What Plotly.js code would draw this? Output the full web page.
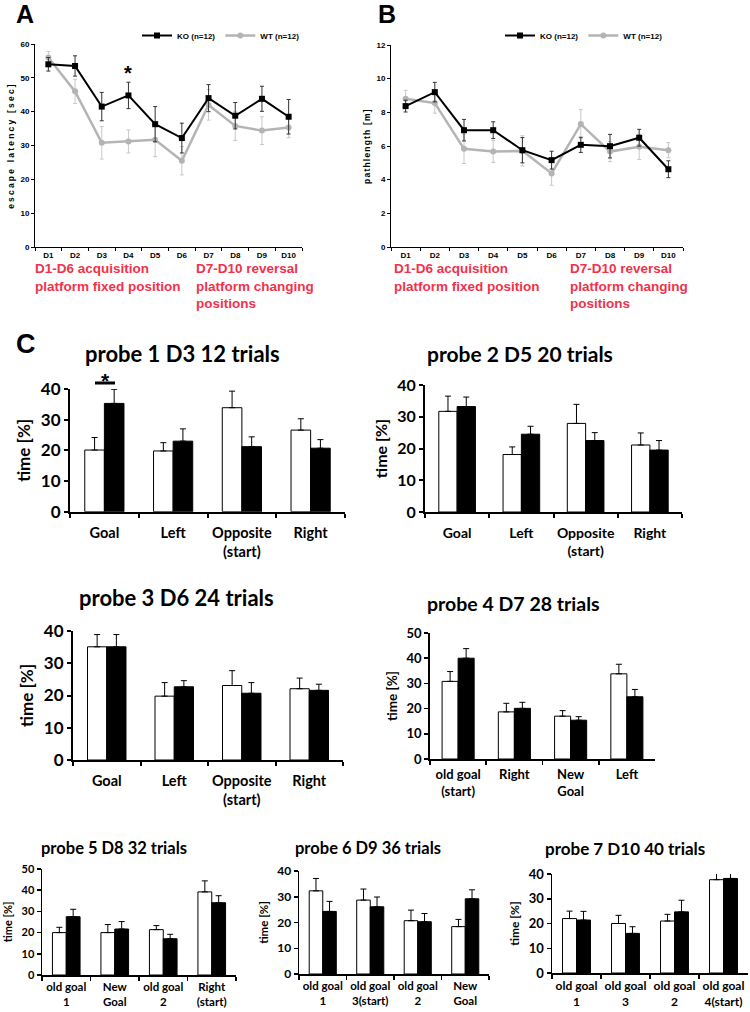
<!DOCTYPE html>
<html><head><meta charset="utf-8">
<script src="https://cdn.plot.ly/plotly-3.0.1.min.js"></script>
<style>body{margin:0;background:#fff}</style>
</head><body><div id="chart" style="width:750px;height:1012px"></div>
<script>
// ---------- data ----------
const days = ['D1','D2','D3','D4','D5','D6','D7','D8','D9','D10'];
const latencyKO    = [54.0, 53.5, 41.5, 44.8, 36.3, 32.2, 44.0, 38.8, 43.8, 38.5];
const latencyKOerr = [2.0, 3.0, 4.2, 3.9, 5.2, 4.4, 4.0, 3.9, 3.7, 5.1];
const latencyWT    = [56.0, 46.0, 30.8, 31.2, 31.7, 25.5, 42.0, 35.8, 34.4, 35.3];
const latencyWTerr = [1.8, 3.6, 4.8, 3.4, 5.0, 4.2, 4.5, 4.3, 4.1, 3.0];
const pathKO    = [8.37, 9.2, 6.94, 6.94, 5.75, 5.16, 6.07, 5.99, 6.49, 4.62];
const pathKOerr = [0.35, 0.58, 0.64, 0.5, 0.75, 0.53, 0.45, 0.7, 0.5, 0.5];
const pathWT    = [8.81, 8.55, 5.83, 5.67, 5.71, 4.37, 7.3, 5.67, 5.95, 5.75];
const pathWTerr = [0.5, 0.6, 0.87, 0.65, 0.9, 0.7, 0.87, 0.6, 0.75, 0.45];

const probe1Cats = ['Goal','Left','Opposite<br>(start)','Right'];
const probe1WT = [20.1, 19.8, 33.9, 26.6], probe1WTerr = [4.1, 2.7, 5.4, 3.7];
const probe1KO = [35.3, 23.0, 21.2, 20.7], probe1KOerr = [4.6, 4.0, 3.2, 2.8];
const probe2Cats = ['Goal','Left','Opposite<br>(start)','Right'];
const probe2WT = [31.7, 18.1, 27.9, 21.1], probe2WTerr = [4.8, 2.4, 6.0, 3.8];
const probe2KO = [33.2, 24.5, 22.5, 19.5], probe2KOerr = [3.0, 2.5, 2.5, 3.0];
const probe3Cats = ['Goal','Left','Opposite<br>(start)','Right'];
const probe3WT = [35.1, 19.8, 23.1, 22.1], probe3WTerr = [3.8, 4.2, 4.6, 3.3];
const probe3KO = [35.1, 22.7, 20.7, 21.6], probe3KOerr = [3.8, 1.9, 3.3, 1.9];
const probe4Cats = ['old goal<br>(start)','Right','New<br>Goal','Left'];
const probe4WT = [30.8, 18.7, 17.0, 33.8], probe4WTerr = [3.9, 3.4, 2.2, 3.8];
const probe4KO = [40.0, 20.1, 15.4, 24.7], probe4KOerr = [3.8, 2.4, 1.4, 2.9];
const probe5Cats = ['old goal<br>1','New<br>Goal','old goal<br>2','Right<br>(start)'];
const probe5WT = [20.0, 20.0, 21.4, 39.2], probe5WTerr = [2.5, 3.8, 1.9, 5.2];
const probe5KO = [27.5, 21.7, 17.1, 34.1], probe5KOerr = [3.5, 3.5, 2.1, 3.3];
const probe6Cats = ['old goal<br>1','old goal<br>3(start)','old goal<br>2','New<br>Goal'];
const probe6WT = [32.3, 28.7, 20.7, 18.4], probe6WTerr = [4.8, 4.3, 4.1, 2.8];
const probe6KO = [24.3, 26.1, 20.3, 29.2], probe6KOerr = [3.9, 3.8, 3.2, 3.5];
const probe7Cats = ['old goal<br>1','old goal<br>3','old goal<br>2','old goal<br>4(start)'];
const probe7WT = [22.0, 20.0, 21.0, 37.7], probe7WTerr = [3.0, 3.3, 2.7, 2.5];
const probe7KO = [21.4, 16.0, 24.7, 38.2], probe7KOerr = [3.5, 2.7, 4.7, 2.5];

const probeTitles = ['probe 1 D3 12 trials','probe 2 D5 20 trials','probe 3 D6 24 trials',
  'probe 4 D7 28 trials','probe 5 D8 32 trials','probe 6 D9 36 trials','probe 7 D10 40 trials'];

// ---------- layout helpers ----------
const W = 750, H = 1012;
const px = v => v / W;
const py = v => 1 - v / H;
const ARIAL = 'Liberation Sans, Arial, sans-serif';
const CAL = 'Lato, Carlito, Calibri, sans-serif';
const RED = '#f0324b';
const GRAY = '#b4b4b4';

const traces = [];
const layout = {
  width: W, height: H, margin: {l:0, r:0, t:0, b:0},
  paper_bgcolor: 'white', plot_bgcolor: 'white',
  showlegend: true, barmode: 'group', bargap: 0.43, bargroupgap: 0,
  font: {family: ARIAL, color: 'black'},
  annotations: [], shapes: []
};

// line charts A and B
function lineTraces(xa, ya, ko, koErr, wt, wtErr, legend) {
  traces.push({
    type:'scatter', mode:'lines+markers', x: days, y: wt, name: 'WT (n=12)', xaxis: xa, yaxis: ya,
    legend: legend, legendrank: 2,
    line:{color: GRAY, width: 2.5}, marker:{symbol:'circle', size:6, color: GRAY},
    error_y:{type:'data', array: wtErr, visible:true, color:'#c8c8c8', thickness:1, width:2}
  });
  traces.push({
    type:'scatter', mode:'lines+markers', x: days, y: ko, name: 'KO (n=12)', xaxis: xa, yaxis: ya,
    legend: legend, legendrank: 1,
    line:{color:'black', width: 2}, marker:{symbol:'square', size:6, color:'black'},
    error_y:{type:'data', array: koErr, visible:true, color:'#333', thickness:1, width:2}
  });
}
lineTraces('x','y', latencyKO, latencyKOerr, latencyWT, latencyWTerr, 'legend');
lineTraces('x2','y2', pathKO, pathKOerr, pathWT, pathWTerr, 'legend2');

const smallTick = {family: ARIAL, size: 8, weight: 700, color:'black'};
function lineXAxis(d0, d1, anchor) {
  return {domain:[px(d0), px(d1)], anchor, type:'category', range:[-0.5, 9.5],
    tickson:'boundaries', ticks:'outside', ticklen:3, tickwidth:1, tickcolor:'black', tickangle:0,
    showline:true, linecolor:'black', linewidth:1, showgrid:false, zeroline:false,
    tickfont: smallTick, fixedrange:true};
}
function lineYAxis(t0, t1, anchor, range, dtick, title) {
  return {domain:[py(t1), py(t0)], anchor, range, dtick, ticks:'outside', ticklen:3, tickwidth:1,
    tickcolor:'black', showline:true, linecolor:'black', linewidth:1, showgrid:false, zeroline:false,
    tickfont: smallTick, fixedrange:true,
    title:{text:title, font:{family: ARIAL, size: 8.5, weight:700}, standoff: 4}};
}
layout.xaxis = lineXAxis(35, 302, 'y');
layout.yaxis = lineYAxis(44, 247, 'x', [0, 60], 10, 'escape latency [sec]');
layout.xaxis2 = lineXAxis(391, 683, 'y2');
layout.yaxis2 = lineYAxis(45, 247, 'x2', [0, 12], 2, 'pathlength [m]');

const legFont = {family: ARIAL, size: 8, weight: 700, color:'black'};
layout.legend = {x: px(137), y: py(21), xanchor:'left', yanchor:'top', orientation:'h',
  font: legFont, bgcolor:'rgba(0,0,0,0)', itemwidth:30, traceorder:'normal'};
layout.legend2 = {x: px(500), y: py(21), xanchor:'left', yanchor:'top', orientation:'h',
  font: legFont, bgcolor:'rgba(0,0,0,0)', itemwidth:30, traceorder:'normal'};

// bar panels
const probes = [
  {cats: probe1Cats, wt: probe1WT, wte: probe1WTerr, ko: probe1KO, koe: probe1KOerr,
   x:[70,345], y:[389,511.7], range:[0,40], tick:17, lab:14.5, yt:17, title:22, tx:182, ty:353, lw:2, so:7},
  {cats: probe2Cats, wt: probe2WT, wte: probe2WTerr, ko: probe2KO, koe: probe2KOerr,
   x:[425,682], y:[385,512], range:[0,40], tick:16, lab:14, yt:16, title:21, tx:520, ty:353, lw:2, so:7},
  {cats: probe3Cats, wt: probe3WT, wte: probe3WTerr, ko: probe3KO, koe: probe3KOerr,
   x:[73,343], y:[631,760], range:[0,40], tick:17, lab:14.5, yt:17, title:22, tx:176, ty:597, lw:2, so:7},
  {cats: probe4Cats, wt: probe4WT, wte: probe4WTerr, ko: probe4KO, koe: probe4KOerr,
   x:[430,655], y:[633,759], range:[0,50], tick:13, lab:13, yt:13.5, title:19.5, tx:513, ty:603, lw:1.8, so:3},
  {cats: probe5Cats, wt: probe5WT, wte: probe5WTerr, ko: probe5KO, koe: probe5KOerr,
   x:[42,236], y:[869,975], range:[0,50], tick:11, lab:11.5, yt:11, title:16.5, tx:114, ty:848, lw:1.5, so:1},
  {cats: probe6Cats, wt: probe6WT, wte: probe6WTerr, ko: probe6KO, koe: probe6KOerr,
   x:[299,489], y:[871,974], range:[0,40], tick:12, lab:11.5, yt:11.5, title:16.5, tx:368, ty:848, lw:1.5, so:1},
  {cats: probe7Cats, wt: probe7WT, wte: probe7WTerr, ko: probe7KO, koe: probe7KOerr,
   x:[552,748], y:[874,973], range:[0,40], tick:13, lab:12, yt:12, title:17, tx:625, ty:848, lw:1.5, so:1}
];

probes.forEach((p, i) => {
  const n = i + 3;
  const xa = 'x' + n, ya = 'y' + n;
  const zeros = p.cats.map(() => 0);
  traces.push({type:'bar', x: p.cats, y: p.wt, name:'WT', xaxis: xa, yaxis: ya, showlegend:false,
    marker:{color:'white', line:{color:'black', width:1}},
    error_y:{type:'data', symmetric:false, array: p.wte, arrayminus: zeros, color:'black', thickness:1, width:3}});
  traces.push({type:'bar', x: p.cats, y: p.ko, name:'KO', xaxis: xa, yaxis: ya, showlegend:false,
    marker:{color:'black', line:{color:'black', width:1}},
    error_y:{type:'data', symmetric:false, array: p.koe, arrayminus: zeros, color:'black', thickness:1, width:3}});
  layout['xaxis' + n] = {domain:[px(p.x[0]), px(p.x[1])], anchor: ya, type:'category',
    range:[-0.5, 3.5], tickson:'boundaries', ticks:'outside', ticklen:4, tickwidth:p.lw, tickcolor:'black',
    tickangle:0, ticklabelstandoff: p.so,
    showline:true, linecolor:'black', linewidth:p.lw, showgrid:false, zeroline:false, fixedrange:true,
    tickfont:{family: CAL, size: p.lab, weight:700, color:'black'}};
  layout['yaxis' + n] = {domain:[py(p.y[1]), py(p.y[0])], anchor: xa, range: p.range, dtick:10,
    ticks:'outside', ticklen:4, tickwidth:p.lw, tickcolor:'black', showline:true, linecolor:'black',
    linewidth:p.lw, showgrid:false, zeroline:false, fixedrange:true,
    tickfont:{family: CAL, size: p.tick, weight:700, color:'black'},
    title:{text:'time [%]', font:{family: CAL, size: p.yt, weight:700, color:'black'}, standoff: 6}};
  layout.annotations.push({xref:'paper', yref:'paper', x: px(p.tx), y: py(p.ty), text: probeTitles[i],
    showarrow:false, xanchor:'center', yanchor:'middle',
    font:{family: CAL, size: p.title, weight:700, color:'black'}});
});

// panel letters
[['A',14,14],['B',376,14],['C',14,344]].forEach(([t,x,y]) => {
  layout.annotations.push({xref:'paper', yref:'paper', x: px(x), y: py(y), text:t, showarrow:false,
    xanchor:'left', yanchor:'middle', font:{family: ARIAL, size: t==='C'?27:25, weight:700, color:'black'}});
});

// red phase notes
[[33, 'D1-D6 acquisition<br>platform fixed position'],
 [194, 'D7-D10 reversal<br>platform changing<br>positions'],
 [392, 'D1-D6 acquisition<br>platform fixed position'],
 [568, 'D7-D10 reversal<br>platform changing<br>positions']].forEach(([x, t]) => {
  layout.annotations.push({xref:'paper', yref:'paper', x: px(x), y: py(259), text:t, showarrow:false,
    xanchor:'left', yanchor:'top', align:'left', font:{family: ARIAL, size: 13.5, weight:700, color: RED}});
});

// significance marks
layout.annotations.push({xref:'x', yref:'y', x:'D4', y:51.5, text:'*', showarrow:false,
  xanchor:'center', yanchor:'middle', font:{family: ARIAL, size:20, weight:700, color:'black'}});
layout.annotations.push({xref:'paper', yref:'paper', x: px(105), y: py(381), text:'*', showarrow:false,
  xanchor:'center', yanchor:'middle', font:{family: ARIAL, size:21, weight:700, color:'black'}});
layout.shapes.push({type:'line', xref:'paper', yref:'paper', x0: px(95), x1: px(115), y0: py(383), y1: py(383),
  line:{color:'black', width:3}});

Plotly.newPlot('chart', traces, layout, {displayModeBar:false, staticPlot:true}).then(() => {
  // the reference's small axis titles of A and B are drawn stretched along their length
  const t1 = document.querySelector('.ytitle');
  if (t1) t1.style.letterSpacing = '2.2px';
  const t2 = document.querySelector('.y2title');
  if (t2) t2.style.letterSpacing = '1.2px';
});
</script>
</body></html>
